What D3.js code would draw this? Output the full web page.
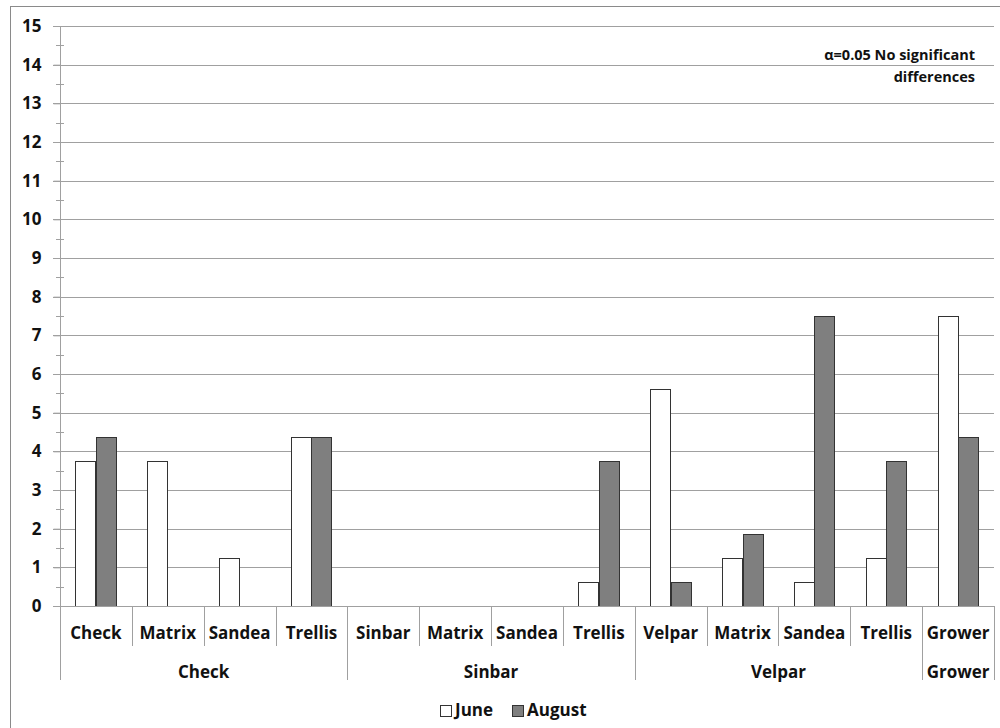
<!DOCTYPE html>
<html>
<head>
<meta charset="utf-8">
<script src="https://cdn.jsdelivr.net/npm/d3@7/dist/d3.min.js"></script>
<style>
  html, body { margin: 0; padding: 0; background: #fff; }
  svg { display: block; }
  text { font-family: "Open Sans", "Liberation Sans", sans-serif; font-weight: bold; fill: #111; }
</style>
</head>
<body>
<svg id="chart" width="1000" height="728"></svg>
<script>
// Treatment groups and the herbicide combinations inside each group
const groups = ["Check", "Sinbar", "Velpar", "Grower"];
const subLabels = [
  ["Check", "Matrix", "Sandea", "Trellis"],
  ["Sinbar", "Matrix", "Sandea", "Trellis"],
  ["Velpar", "Matrix", "Sandea", "Trellis"],
  ["Grower"]
];
const seriesNames = ["June", "August"];
// Values per combination, in the same order as subLabels flattened
const juneValues   = [3.75, 3.75, 1.25, 4.375,  0, 0, 0, 0.625,  5.625, 1.25, 0.625, 1.25,  7.5];
const augustValues = [4.375, 0, 0, 4.375,       0, 0, 0, 3.75,   0.625, 1.875, 7.5, 3.75,   4.375];
const yTicks = d3.range(0, 16, 1);
const yMinorTicks = d3.range(0.5, 15, 1);
const note = ["\u03b1=0.05 No significant", "differences"];

const svg = d3.select("#chart");
const plotLeft = 60, plotRight = 994, plotTop = 26, plotBottom = 606;

// flat list of category slots
const slots = [];
subLabels.forEach((subs, gi) => subs.forEach(s => slots.push({ group: groups[gi], gi, label: s, key: groups[gi] + "|" + s })));
slots.forEach((d, i) => { d.June = juneValues[i]; d.August = augustValues[i]; });

const x = d3.scaleBand().domain(slots.map(d => d.key)).range([plotLeft, plotRight]).padding(0);
const xs = d3.scaleBand().domain(seriesNames).range([0, x.bandwidth()]).paddingInner(0).paddingOuter(0.75);
const y = d3.scaleLinear().domain([0, 15]).range([plotBottom, plotTop]);
const color = { June: "#ffffff", August: "#7f7f7f" };

// outer chart frame
svg.append("rect").attr("x", 10.5).attr("y", 6.5).attr("width", 1000).attr("height", 740)
  .attr("fill", "none").attr("stroke", "#8a8a8a").attr("stroke-width", 1);

// horizontal gridlines
svg.append("g").selectAll("line").data(yTicks.filter(t => t > 0)).join("line")
  .attr("x1", plotLeft - 7).attr("x2", plotRight)
  .attr("y1", d => Math.round(y(d)) + 0.5).attr("y2", d => Math.round(y(d)) + 0.5)
  .attr("stroke", "#a0a0a0").attr("stroke-width", 1);

// y axis with labels
const yAxis = d3.axisLeft(y).tickValues(yTicks).tickSize(7).tickPadding(12).tickFormat(d3.format("d"));
const ya = svg.append("g").attr("transform", `translate(${plotLeft + 0.5},0)`).call(yAxis);
ya.select(".domain").remove();
ya.selectAll(".tick line").attr("stroke", "#a0a0a0");
ya.selectAll(".tick text").attr("font-size", 17).attr("font-family", "Open Sans, sans-serif")
  .attr("font-weight", "bold").attr("fill", "#111");

// minor ticks crossing the axis
svg.append("g").selectAll("line").data(yMinorTicks).join("line")
  .attr("x1", plotLeft - 4).attr("x2", plotLeft + 4)
  .attr("y1", d => Math.round(y(d)) + 0.5).attr("y2", d => Math.round(y(d)) + 0.5)
  .attr("stroke", "#a0a0a0");

// vertical axis line, extended through the label rows
svg.append("line").attr("x1", plotLeft + 0.5).attr("x2", plotLeft + 0.5).attr("y1", plotTop).attr("y2", 680)
  .attr("stroke", "#a0a0a0");

// bars
const bars = svg.append("g");
slots.forEach(d => {
  seriesNames.forEach(s => {
    if (d[s] <= 0) return;
    bars.append("rect")
      .attr("x", Math.round(x(d.key) + xs(s)) + 0.5)
      .attr("y", Math.round(y(d[s])) + 0.5)
      .attr("width", Math.round(xs.bandwidth()) - 1)
      .attr("height", Math.round(y(0)) - Math.round(y(d[s])))
      .attr("fill", color[s]).attr("stroke", "#333").attr("stroke-width", 1);
  });
});

// baseline
svg.append("line").attr("x1", plotLeft - 7).attr("x2", plotRight).attr("y1", plotBottom + 0.5).attr("y2", plotBottom + 0.5)
  .attr("stroke", "#a0a0a0");

// category dividers: short between combinations, long between groups
const bounds = slots.map((d, i) => ({ pos: x(d.key) + x.bandwidth(), groupEnd: i === slots.length - 1 || slots[i + 1].gi !== d.gi }));
svg.append("g").selectAll("line").data(bounds).join("line")
  .attr("x1", d => Math.round(d.pos) + 0.5).attr("x2", d => Math.round(d.pos) + 0.5)
  .attr("y1", plotBottom).attr("y2", d => d.groupEnd ? 680 : 646)
  .attr("stroke", "#a0a0a0");

// combination labels
svg.append("g").selectAll("text").data(slots).join("text")
  .attr("x", d => x(d.key) + x.bandwidth() / 2).attr("y", 639)
  .attr("text-anchor", "middle").attr("font-size", 17).text(d => d.label);

// group labels
svg.append("g").selectAll("text").data(groups).join("text")
  .attr("x", g => {
    const ks = slots.filter(d => d.group === g);
    return (x(ks[0].key) + x(ks[ks.length - 1].key) + x.bandwidth()) / 2;
  })
  .attr("y", 678).attr("text-anchor", "middle").attr("font-size", 17).text(g => g);

// significance note
svg.append("g").selectAll("text").data(note).join("text")
  .attr("x", 975).attr("y", (d, i) => 60 + i * 21.5).attr("text-anchor", "end")
  .attr("font-size", 14.5).text(d => d);

// legend
const legend = svg.append("g");
const legendX = [440, 512];
seriesNames.forEach((s, i) => {
  legend.append("rect").attr("x", legendX[i] + 0.5).attr("y", 705.5).attr("width", 11).attr("height", 11)
    .attr("fill", color[s]).attr("stroke", "#333");
  legend.append("text").attr("x", legendX[i] + 15).attr("y", 716).attr("font-size", 17).text(s);
});
</script>
</body>
</html>
